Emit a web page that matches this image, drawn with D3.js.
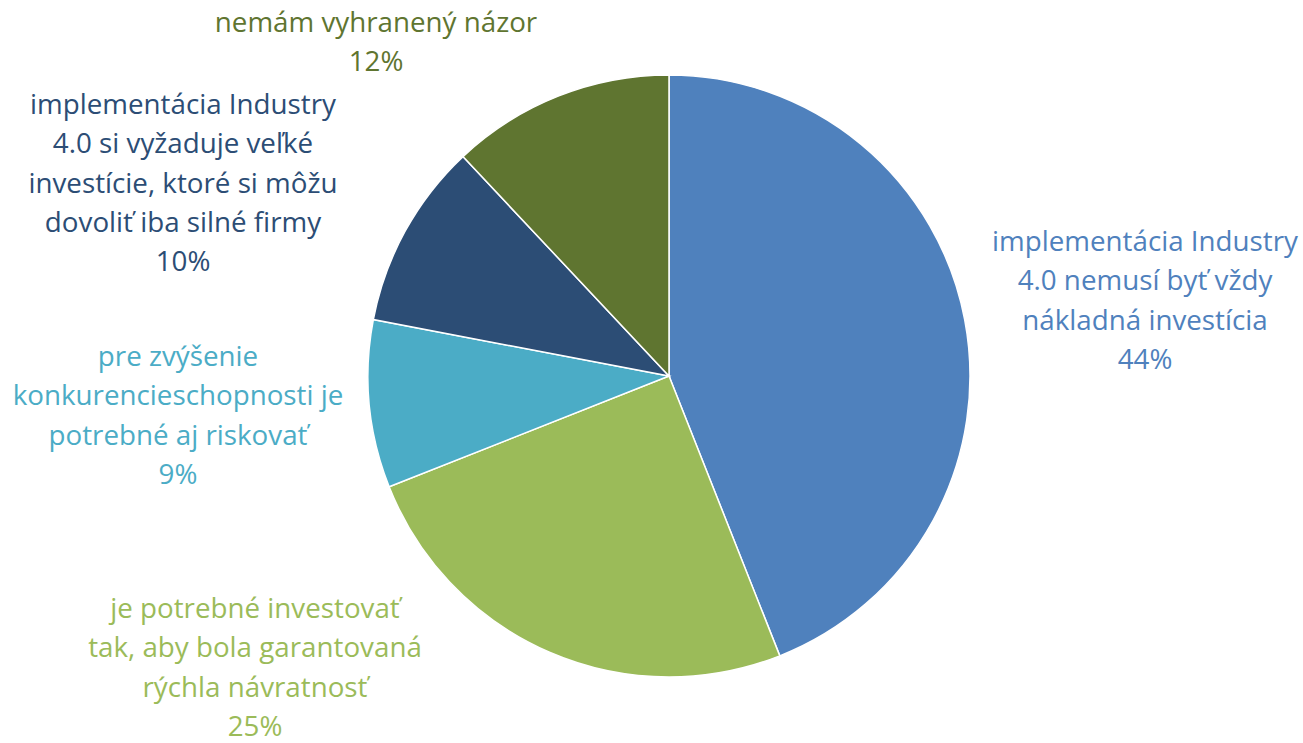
<!DOCTYPE html>
<html>
<head>
<meta charset="utf-8">
<script src="https://cdn.jsdelivr.net/npm/d3@7"></script>
<style>
  body { margin: 0; background: #fff; }
  svg { display: block; }
</style>
</head>
<body>
<script>
var w = 1303, h = 743;

// data, clockwise from 12 o'clock
var categories = [
  ["implementácia Industry", "4.0 nemusí byť vždy", "nákladná investícia"],
  ["je potrebné investovať", "tak, aby bola garantovaná", "rýchla návratnosť"],
  ["pre zvýšenie", "konkurencieschopnosti je", "potrebné aj riskovať"],
  ["implementácia Industry", "4.0 si vyžaduje veľké", "investície, ktoré si môžu", "dovoliť iba silné firmy"],
  ["nemám vyhranený názor"]
];
var values = [44, 25, 9, 10, 12];
var percentLabels = ["44%", "25%", "9%", "10%", "12%"];
var colors = ["#4F81BD", "#9BBB59", "#4BACC6", "#2C4D75", "#5F7530"];

// label anchor (centre x, first line baseline y)
var labelPos = [[1145, 251], [255, 618], [178, 366], [183, 114], [376, 32]];

var cx = 669, cy = 376, r = 301, lineH = 39.3;

var svg = d3.select("body").append("svg")
  .attr("width", w)
  .attr("height", h);

var pie = d3.pie().sort(null).value(function(d) { return d; });
var arc = d3.arc().innerRadius(0).outerRadius(r);

var g = svg.append("g").attr("transform", "translate(" + cx + "," + cy + ")");

g.selectAll("path")
  .data(pie(values))
  .enter().append("path")
    .attr("d", arc)
    .attr("fill", function(d, i) { return colors[i]; })
    .attr("stroke", "#fff")
    .attr("stroke-width", 1.5);

// figure out a font size that gives the Calibri-ish width
var probe = svg.append("text")
  .attr("font-family", "Open Sans")
  .attr("font-size", 24)
  .text("implementácia Industry");
var fs = 24 * 306 / probe.node().getComputedTextLength();
probe.remove();

var labels = svg.selectAll("text.lbl")
  .data(categories)
  .enter().append("text")
    .attr("class", "lbl")
    .attr("font-family", "Open Sans")
    .attr("font-size", fs)
    .attr("text-anchor", "middle")
    .attr("fill", function(d, i) { return colors[i]; });

labels.each(function(lines, i) {
  var t = d3.select(this);
  lines.concat([percentLabels[i]]).forEach(function(s, k) {
    t.append("tspan")
      .attr("x", labelPos[i][0])
      .attr("y", labelPos[i][1] + k * lineH)
      .text(s);
  });
});
</script>
</body>
</html>
